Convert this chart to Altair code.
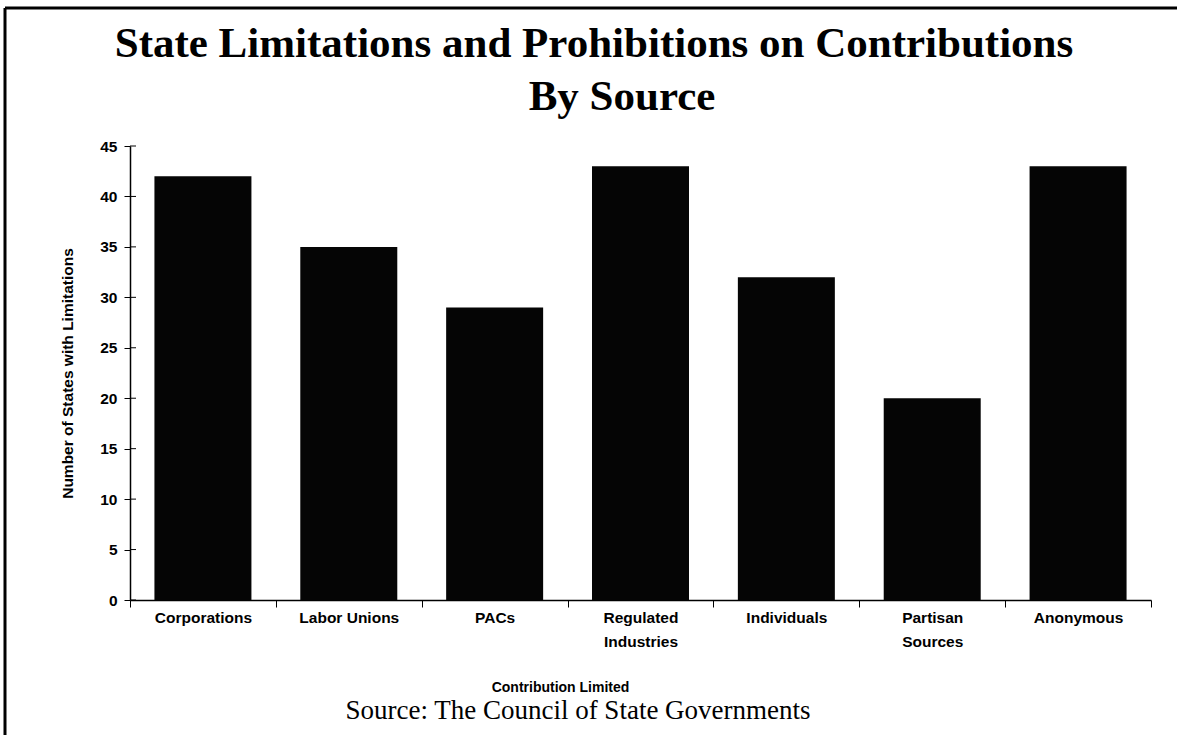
import altair as alt
import pandas as pd

categories = ["Corporations", "Labor Unions", "PACs", "Regulated Industries",
              "Individuals", "Partisan Sources", "Anonymous"]
values = [42, 35, 29, 43, 32, 20, 43]
y_ticks = [0, 5, 10, 15, 20, 25, 30, 35, 40, 45]
title_lines = ["State Limitations and Prohibitions on Contributions", "By Source"]
source_text = "Source: The Council of State Governments"

df = pd.DataFrame({"category": categories, "value": values})
ticks_df = pd.DataFrame({"t": y_ticks})

W, H = 1021, 454
PL, PT = 130, 146

label_expr = ("datum.label == 'Regulated Industries' ? ['Regulated','Industries'] : "
              "datum.label == 'Partisan Sources' ? ['Partisan','Sources'] : datum.label")

x_enc = alt.X("category:N", sort=categories, title="Contribution Limited",
              scale=alt.Scale(paddingInner=0, paddingOuter=0),
              axis=alt.Axis(labelAngle=0, labelExpr=label_expr, labelFont="Liberation Sans",
                            labelFontWeight="bold", labelFontSize=15.5, labelColor="black",
                            labelPadding=3, labelLineHeight=24, tickBand="extent",
                            tickSize=7, tickColor="black", domainColor="black", domainWidth=1.5,
                            titleFont="Liberation Sans", titleFontWeight="bold", titleFontSize=14,
                            titleColor="black", titleX=430, titleY=80))

bars = alt.Chart(df).mark_bar(color="#050505", width={"band": 0.665}).encode(
    x=x_enc,
    y=alt.Y("value:Q", title="Number of States with Limitations",
            scale=alt.Scale(domain=[0, 45], nice=False),
            axis=alt.Axis(values=y_ticks, grid=False, tickSize=6, tickColor="black",
                          domainColor="black", domainWidth=1.5,
                          labelFont="Liberation Sans", labelFontWeight="bold",
                          labelFontSize=15.5, labelColor="black", labelPadding=7,
                          titleFont="Liberation Sans", titleFontWeight="bold",
                          titleFontSize=15.5, titleColor="black", titlePadding=24)),
)

inner_ticks = alt.Chart(ticks_df).mark_rule(color="black", strokeWidth=1).encode(
    y=alt.Y("t:Q"),
    x=alt.value(0),
    x2=alt.value(6),
)

def text_layer(txt, cx, cy, size, font, weight="normal"):
    return alt.Chart(pd.DataFrame({"s": [txt]})).mark_text(
        font=font, fontSize=size, fontWeight=weight, color="black",
        align="center", baseline="alphabetic"
    ).encode(text="s:N", x=alt.value(cx - PL), y=alt.value(cy - PT))

title1 = text_layer(title_lines[0], 594, 57, 43, "Liberation Serif", "bold")
title2 = text_layer(title_lines[1], 622, 110, 43, "Liberation Serif", "bold")
source = text_layer(source_text, 578, 719, 27, "Liberation Serif")

frame_left = alt.Chart(pd.DataFrame({"a": [0]})).mark_rule(color="black", strokeWidth=3).encode(
    x=alt.value(5 - PL), y=alt.value(8 - PT), y2=alt.value(735 - PT))
frame_top = alt.Chart(pd.DataFrame({"a": [0]})).mark_rule(color="black", strokeWidth=3).encode(
    x=alt.value(5 - PL), x2=alt.value(1177 - PL), y=alt.value(8 - PT))

chart = alt.layer(bars, inner_ticks, title1, title2, source, frame_left, frame_top).properties(
    width=W, height=H,
    autosize=alt.AutoSizeParams(type="none"),
    padding={"left": PL, "top": PT, "right": 1177 - PL - W, "bottom": 735 - PT - H},
).configure(background="white", view=alt.ViewConfig(stroke=None))

chart.save("out.html", embed_options={"renderer": "svg", "actions": False})
